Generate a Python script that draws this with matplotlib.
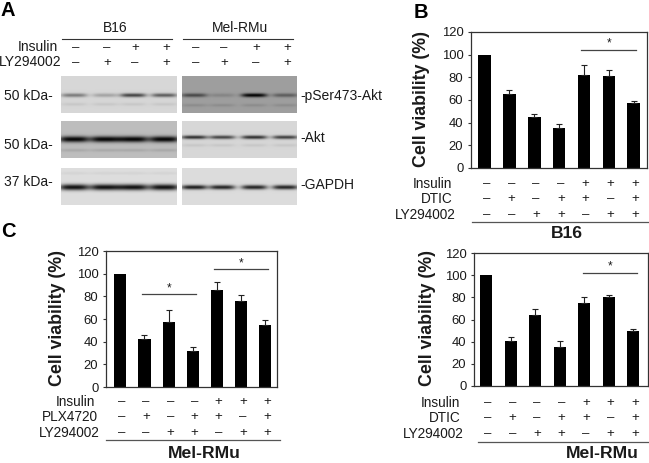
import numpy as np
import matplotlib
matplotlib.use("Agg")
import matplotlib.pyplot as plt

plt.rcParams['font.family'] = ['Liberation Sans', 'DejaVu Sans']

W, H = 649, 463

# panel B
b16_vals = [100, 65, 45, 35.5, 82.5, 81, 57.5]
b16_errs = [0, 4, 2.5, 3.5, 8, 5.5, 2]
b16_signs = ["----+++", "-+-++-+", "--++-++"]

# panel C
plx_vals = [100, 42.4, 57.7, 32, 85.7, 75.8, 54.7]
plx_errs = [0, 3.2, 10.3, 3.4, 7.3, 5.6, 4.3]
plx_signs = ["----+++", "-+-++-+", "--++-++"]

# lower right
rmu_vals = [100, 41, 64.5, 35, 75, 80.2, 49.7]
rmu_errs = [0, 3.6, 5.1, 5.7, 5.2, 2.1, 1.5]
rmu_signs = ["----+++", "-+-++-+", "--++-++"]

y_ticks = [0, 20, 40, 60, 80, 100, 120]

# panel A: blot band darkness per lane
lanes_left = [74, 105, 133, 164]
lanes_right = [194, 222, 254, 285]
pser_left = [0.36, 0.2, 0.58, 0.48]
pser_right = [0.34, 0.1, 0.62, 0.26]
akt_left = [0.72, 0.72, 0.72, 0.72]
akt_right = [0.66, 0.58, 0.66, 0.6]
gapdh_left = [0.8, 0.8, 0.8, 0.8]
gapdh_right = [0.75, 0.72, 0.72, 0.72]
blot_signs_insulin = ["-", "-", "+", "+"]
blot_signs_ly = ["-", "+", "-", "+"]


def px_axes(fig, x0, y0, x1, y1):
    return fig.add_axes([x0 / W, 1 - y1 / H, (x1 - x0) / W, (y1 - y0) / H])


def ftext(fig, x, y, s, **kw):
    kw.setdefault("ha", "center")
    kw.setdefault("va", "center")
    kw.setdefault("color", "#1a1a1a")
    fig.text(x / W, 1 - y / H, s, **kw)


def blot(fig, box, bg, lanes, dark, band_y, half_w, sigma, faint=None):
    x0, y0, x1, y1 = box
    ys, xs = np.mgrid[y0:y1:0.5, x0:x1:0.5]
    img = np.full(xs.shape, bg, dtype=float)
    for lx, d in zip(lanes, dark):
        prof = np.exp(-((xs - lx) / half_w) ** 4)
        img -= d * prof * np.exp(-((ys - band_y) / sigma) ** 2)
        if faint:
            img -= faint[1] * prof * np.exp(-((ys - faint[0]) / 1.5) ** 2)
    ax = px_axes(fig, x0, y0, x1, y1)
    ax.imshow(np.clip(img, 0, 1), cmap="gray", vmin=0, vmax=1, aspect="auto", interpolation="bilinear")
    ax.axis("off")


def bar_panel(fig, box, xlim, vals, errs, signs, names, sign_y, name_right, rule, title, ylab_x, sig):
    x0, y0, x1, y1 = box
    ax = px_axes(fig, x0, y0, x1, y1)
    xs = np.arange(len(vals))
    ax.bar(xs, vals, width=0.5, color="black")
    ax.errorbar(xs[1:], vals[1:], yerr=[np.zeros(len(vals) - 1), errs[1:]], fmt="none",
                ecolor="#222222", elinewidth=0.8, capsize=2, capthick=0.8)
    ax.set_xlim(*xlim)
    ax.set_ylim(0, 120)
    ax.set_yticks(y_ticks)
    ax.set_xticks([])
    ax.tick_params(axis="y", length=2, width=0.8, labelsize=9.4, pad=3.5, color="#333333", labelcolor="#1a1a1a")
    for sp in ax.spines.values():
        sp.set_linewidth(0.9)
        sp.set_color("#333333")

    for left, right, y, star_y in sig:
        ax.plot([left, right], [y, y], color="#444444", lw=0.9)
        ax.text((left + right) / 2, star_y, "*", ha="center", va="center", fontsize=8.5, color="#1a1a1a")

    # treatment table under the bars
    sign_tf = ax.get_xaxis_transform()
    for row, s in enumerate(signs):
        frac = 1 - (sign_y[row] - y0) / (y1 - y0)
        for i, ch in enumerate(s):
            ax.text(i + 0.07, frac, "+" if ch == "+" else "\u2013", transform=sign_tf, ha="center",
                    va="center", fontsize=9.5, color="#1a1a1a", clip_on=False)
        ftext(fig, name_right[row], sign_y[row], names[row], ha="right", fontsize=9.8)

    fig.add_artist(plt.Line2D([rule[0] / W, rule[1] / W], [1 - rule[2] / H] * 2, color="#555555", lw=0.9))
    ftext(fig, title[0], title[1], title[2], fontsize=12.6, fontweight="bold")
    ftext(fig, ylab_x, (y0 + y1) / 2 - 1, "Cell viability (%)", rotation=90, fontsize=12.8, fontweight="bold")


fig = plt.figure(figsize=(W / 100, H / 100), dpi=100)

# --- panel A ---
ftext(fig, 8, 10, "A", fontsize=14.5, fontweight="bold", color="black")
ftext(fig, 115, 28, "B16", fontsize=10)
ftext(fig, 240, 28, "Mel-RMu", fontsize=10)
fig.add_artist(plt.Line2D([62 / W, 172 / W], [1 - 39 / H] * 2, color="#333333", lw=0.8))
fig.add_artist(plt.Line2D([183 / W, 293 / W], [1 - 39 / H] * 2, color="#333333", lw=0.8))
ftext(fig, 58, 47, "Insulin", ha="right", fontsize=10)
ftext(fig, 62, 62, "LY294002", ha="right", fontsize=10)
for lx, a, b in zip(lanes_left + lanes_right, blot_signs_insulin * 2, blot_signs_ly * 2):
    ftext(fig, lx + 2, 48, "+" if a == "+" else "\u2013", fontsize=9.5)
    ftext(fig, lx + 2, 63, "+" if b == "+" else "\u2013", fontsize=9.5)

blot(fig, (61, 76, 177, 113), 0.84, lanes_left, pser_left, 95, 13, 1.9, (104, 0.06))
blot(fig, (182, 76, 297, 113), 0.62, lanes_right, pser_right, 95, 13, 1.9, (105, 0.07))
blot(fig, (61, 121, 177, 158), 0.74, lanes_left, akt_left, 139, 15, 3.0, (150, 0.08))
blot(fig, (182, 121, 297, 158), 0.84, lanes_right, akt_right, 137, 13, 1.8, (145, 0.06))
blot(fig, (61, 168, 177, 205), 0.87, lanes_left, gapdh_left, 187, 15, 3.0, (173, 0.04))
blot(fig, (182, 168, 297, 205), 0.86, lanes_right, gapdh_right, 187, 13, 2.2)

ftext(fig, 4, 96, "50 kDa-", ha="left", fontsize=10)
ftext(fig, 4, 145, "50 kDa-", ha="left", fontsize=10)
ftext(fig, 4, 182, "37 kDa-", ha="left", fontsize=10)
ftext(fig, 300, 96, "-pSer473-Akt", ha="left", fontsize=10)
ftext(fig, 300, 138, "-Akt", ha="left", fontsize=10)
ftext(fig, 300, 185, "-GAPDH", ha="left", fontsize=10)

# --- bar panels ---
ftext(fig, 421, 12, "B", fontsize=14.5, fontweight="bold", color="black")
bar_panel(fig, (471, 32, 647, 168), (-0.55, 6.54), b16_vals, b16_errs, b16_signs,
          ["Insulin", "DTIC", "LY294002"], [184, 199, 215], [452, 453, 456], (472, 649, 222),
          (567, 234, "B16"), 422, [(3.9, 6.1, 104, 110)])

ftext(fig, 8, 232, "C", fontsize=14.5, fontweight="bold", color="black")
bar_panel(fig, (106, 251, 277, 387), (-0.59, 6.48), plx_vals, plx_errs, plx_signs,
          ["Insulin", "PLX4720", "LY294002"], [402, 417, 433], [95, 98, 100], (106, 280, 440),
          (204, 454, "Mel-RMu"), 58, [(0.88, 3.15, 82.2, 87), (3.87, 6.12, 103.9, 109)])

bar_panel(fig, (474, 253, 648, 386), (-0.5, 6.6), rmu_vals, rmu_errs, rmu_signs,
          ["Insulin", "DTIC", "LY294002"], [403, 418, 434], [460, 461, 464], (478, 649, 442),
          (602, 454, "Mel-RMu"), 428, [(3.95, 6.16, 102, 108)])

fig.savefig("out.png", dpi=100)
